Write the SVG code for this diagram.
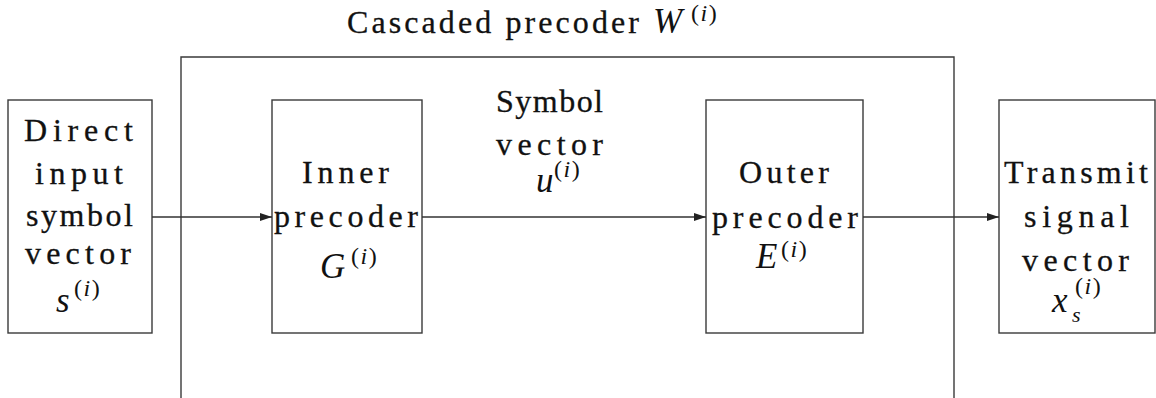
<svg xmlns="http://www.w3.org/2000/svg" width="1156" height="398" viewBox="0 0 1156 398">
  <style>
    .box { fill: none; stroke: #3a3a3a; stroke-width: 1.4; }
    .lbl { font-family: "Liberation Serif", "Times New Roman", serif; font-size: 32px; fill: #111; stroke: #111; stroke-width: 0.3; }
    .math { font-family: "Liberation Serif", "Times New Roman", serif; font-size: 35px; font-style: italic; fill: #111; }
    .sup { font-family: "Liberation Serif", "Times New Roman", serif; font-size: 24px; font-style: normal; letter-spacing: 1.5px; fill: #111; }
    .it { font-style: italic; }
    .conn { fill: none; stroke: #333; stroke-width: 1.4; }
  </style>
  <defs>
    <marker id="arr" viewBox="0 0 12 8" refX="12" refY="4" markerWidth="12" markerHeight="8" markerUnits="userSpaceOnUse" orient="auto">
      <path d="M0,0 L12,4 L0,8 Z" fill="#222"/>
    </marker>
  </defs>
  <rect width="1156" height="398" fill="#fff"/>

  <g id="cascaded">
    <path class="box" d="M181,398 V57 H954 V398"/>
    <text class="lbl" x="347" y="33" textLength="292" lengthAdjust="spacing">Cascaded precoder</text>
    <text class="math" x="653" y="33">W</text>
    <text class="sup" x="691" y="21">(<tspan class="it">i</tspan>)</text>
  </g>

  <g id="input">
    <rect class="box" x="8" y="100" width="144" height="233"/>
    <text class="lbl" x="24" y="141" textLength="109" lengthAdjust="spacing">Direct</text>
    <text class="lbl" x="35" y="184" textLength="88" lengthAdjust="spacing">input</text>
    <text class="lbl" x="26" y="226" textLength="107" lengthAdjust="spacing">symbol</text>
    <text class="lbl" x="25" y="264" textLength="106" lengthAdjust="spacing">vector</text>
    <text class="math" x="56" y="312">s</text>
    <text class="sup" x="74" y="296">(<tspan class="it">i</tspan>)</text>
  </g>

  <g id="inner">
    <rect class="box" x="272" y="100" width="150" height="233"/>
    <text class="lbl" x="302" y="183" textLength="87" lengthAdjust="spacing">Inner</text>
    <text class="lbl" x="274" y="227" textLength="144" lengthAdjust="spacing">precoder</text>
    <text class="math" x="320" y="278">G</text>
    <text class="sup" x="351" y="264">(<tspan class="it">i</tspan>)</text>
  </g>

  <g id="symbolvec">
    <text class="lbl" x="496" y="112" textLength="107" lengthAdjust="spacing">Symbol</text>
    <text class="lbl" x="496" y="155" textLength="107" lengthAdjust="spacing">vector</text>
    <text class="math" x="536" y="192">u</text>
    <text class="sup" x="554" y="177">(<tspan class="it">i</tspan>)</text>
  </g>

  <g id="outer">
    <rect class="box" x="706" y="100" width="157" height="233"/>
    <text class="lbl" x="739" y="183" textLength="90" lengthAdjust="spacing">Outer</text>
    <text class="lbl" x="712" y="228" textLength="146" lengthAdjust="spacing">precoder</text>
    <text class="math" x="756" y="268">E</text>
    <text class="sup" x="781" y="257">(<tspan class="it">i</tspan>)</text>
  </g>

  <g id="transmit">
    <rect class="box" x="999" y="100" width="156" height="233"/>
    <text class="lbl" x="1004" y="183" textLength="144" lengthAdjust="spacing">Transmit</text>
    <text class="lbl" x="1024" y="227" textLength="105" lengthAdjust="spacing">signal</text>
    <text class="lbl" x="1022" y="271" textLength="107" lengthAdjust="spacing">vector</text>
    <text class="math" x="1052" y="312">x</text>
    <text class="math" x="1072" y="322" style="font-size:22px">s</text>
    <text class="sup" x="1075" y="294">(<tspan class="it">i</tspan>)</text>
  </g>

  <g id="connectors">
    <line class="conn" x1="152" y1="217" x2="272" y2="217" marker-end="url(#arr)"/>
    <line class="conn" x1="422" y1="217" x2="706" y2="217" marker-end="url(#arr)"/>
    <line class="conn" x1="863" y1="217" x2="999" y2="217" marker-end="url(#arr)"/>
  </g>
</svg>
